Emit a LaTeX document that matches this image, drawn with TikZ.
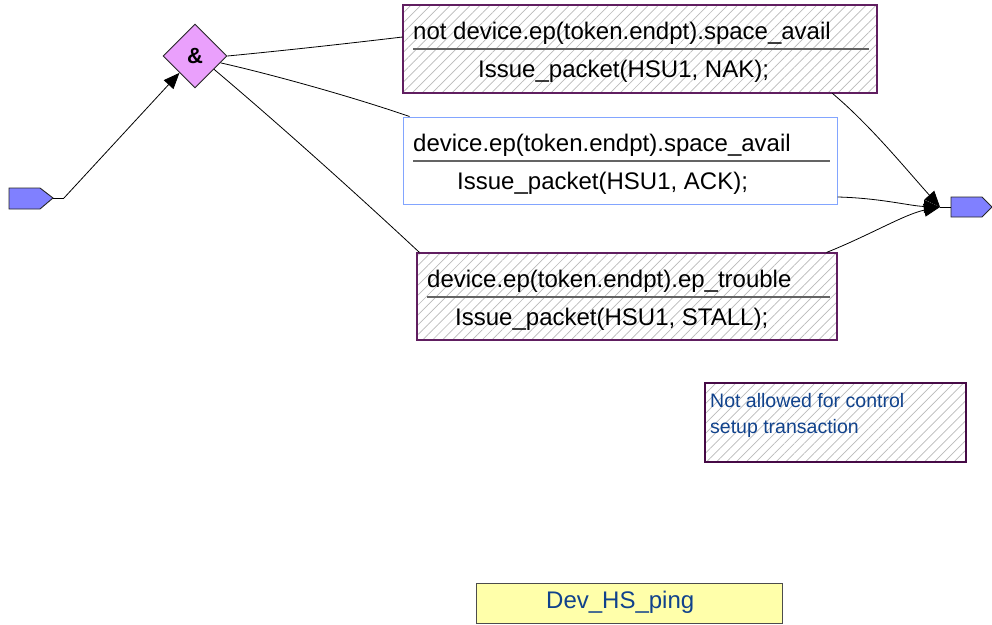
\documentclass[tikz,border=0pt]{standalone}
\usepackage{fontspec}
\setmainfont{Liberation Sans}
\usetikzlibrary{shapes.geometric,arrows.meta,patterns.meta}
\definecolor{purp}{RGB}{96,30,96}
\definecolor{notepurp}{RGB}{70,10,70}
\definecolor{lblue}{RGB}{130,165,255}
\definecolor{dfill}{RGB}{234,160,252}
\definecolor{pfill}{RGB}{128,128,255}
\definecolor{tblue}{RGB}{16,66,140}
\definecolor{yfill}{RGB}{255,255,170}
\definecolor{hatch}{RGB}{185,185,185}
\definecolor{sepgray}{RGB}{100,100,100}
\tikzset{
  hatched/.style={pattern={Lines[angle=45,distance=7pt,line width=0.7pt]},pattern color=hatch},
  condbox/.style={draw=purp,line width=1.1pt,hatched,rectangle,inner sep=0pt},
  okbox/.style={draw=lblue,line width=1pt,fill=white,rectangle,inner sep=0pt},
  big/.style={font=\fontsize{24}{28}\selectfont,inner sep=0pt,anchor=base west},
  sepline/.style={draw=sepgray,line width=1.2pt},
  conn/.style={draw=black,line width=0.8pt},
  tip/.style={-{Triangle[length=16pt,width=13pt]}},
  port/.style={draw=black!85,line width=0.9pt,fill=pfill}
}
\begin{document}
\begin{tikzpicture}[x=1pt,y=-1pt]
\useasboundingbox (0,0) rectangle (992,624);
% boxes
\node[condbox,minimum width=474pt,minimum height=88pt] (box1) at (640,49) {};
\node[okbox,minimum width=434pt,minimum height=87pt] (box2) at (620,160.5) {};
\node[condbox,minimum width=420pt,minimum height=87pt] (box3) at (627,296.5) {};
\node[draw=notepurp,line width=1.3pt,hatched,rectangle,inner sep=0pt,minimum width=261pt,minimum height=79pt] (note) at (835.5,422.5) {};
\node[draw=black!70,line width=1pt,fill=yfill,rectangle,inner sep=0pt,minimum width=306pt,minimum height=40pt] (title) at (629,603) {};
% box texts
\node[big] (t1a) at (413,39) {not device.ep(token.endpt).space\_avail};
\node[big] (t1b) at (478,77) {Issue\_packet(HSU1, NAK);};
\node[big] (t2a) at (413,151) {device.ep(token.endpt).space\_avail};
\node[big] (t2b) at (457,189) {Issue\_packet(HSU1, ACK);};
\node[big] (t3a) at (427,287) {device.ep(token.endpt).ep\_trouble};
\node[big] (t3b) at (455,325) {Issue\_packet(HSU1, STALL);};
\draw[sepline] (413,49) -- (869,49);
\draw[sepline] (413,161) -- (830,161);
\draw[sepline] (427,297) -- (830,297);
% note
\node[font=\fontsize{19.5}{23}\selectfont,text=tblue,inner sep=0pt,anchor=base west] (n1) at (710,407) {Not allowed for control};
\node[font=\fontsize{19.5}{23}\selectfont,text=tblue,inner sep=0pt,anchor=base west] (n2) at (710,433) {setup transaction};
% title
\node[font=\fontsize{24}{28}\selectfont,text=tblue,inner sep=0pt,anchor=base west] (tt) at (546,608) {Dev\_HS\_ping};
% diamond
\node[diamond,draw=black!85,line width=0.9pt,fill=dfill,inner sep=0pt,minimum width=64pt,minimum height=64pt,font=\fontsize{22}{26}\selectfont\bfseries] (dia) at (195,56) {\&};
% ports
\draw[port] (9,188) -- (40,188) -- (53,198) -- (40,209) -- (9,209) -- cycle;
\coordinate (inp) at (53,198);
\coordinate (inpx) at (64,198);
\draw[port] (951,197) -- (982,197) -- (992,207) -- (982,217) -- (951,217) -- cycle;
\coordinate (outtip) at (940,207);
\coordinate (outp) at (951,207);
% connectors
\draw[conn] (inp) -- (inpx);
\draw[conn,tip] (inpx) -- (dia);
\draw[conn] (dia.east) .. controls (300,49) and (360,42) .. ([yshift=12pt]box1.west);
\draw[conn] (dia.-15) .. controls (270,74) and (350,96) .. ([xshift=7pt]box2.north west);
\draw[conn] (dia.-35) .. controls (280,125) and (360,197) .. ([xshift=3pt]box3.north west);
\draw[conn,tip] ([xshift=-45pt]box1.south east) .. controls (870,125) and (905,168) .. (outtip);
\draw[conn,tip] ([yshift=-36.5pt]box2.east) .. controls (880,198) and (910,206) .. (outtip);
\draw[conn,tip] ([xshift=-11pt]box3.north east) .. controls (870,235) and (905,214) .. (outtip);
\draw[conn] (outtip) -- (outp);
\end{tikzpicture}
\end{document}
